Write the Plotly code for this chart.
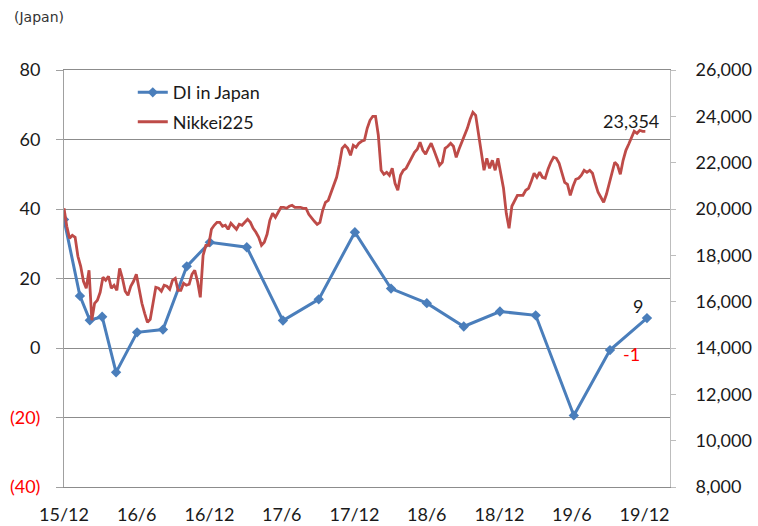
import plotly.graph_objects as go
import pandas as pd

# ---------------- data ----------------
di_dates = ["2015-12-01", "2016-01-10", "2016-02-04", "2016-03-06", "2016-04-10",
            "2016-06-02", "2016-08-06", "2016-10-05", "2016-12-02", "2017-03-05",
            "2017-06-04", "2017-09-02", "2017-12-02", "2018-03-03", "2018-06-01",
            "2018-09-02", "2018-12-02", "2019-03-02", "2019-06-06", "2019-09-05",
            "2019-12-07"]
di_values = [37, 15, 8, 9, -7, 4.5, 5.3, 23.5, 30.4, 29, 7.9, 14, 33.3, 17.1, 12.9,
             6.2, 10.5, 9.4, -19.4, -0.6, 8.6]

nikkei_start = "2015-12-01"
nikkei_values = [
    20030, 19253, 18736, 18865, 18779, 17958, 17527, 16879, 16577, 17354,
    15196, 15930, 16059, 16404, 17052, 16922, 17095, 16577, 16707, 16491,
    17440, 17009, 16448, 16275, 16663, 16879, 17181, 16577, 15930, 15498,
    15109, 15239, 15973, 16620, 16577, 16448, 16707, 16663, 16534, 16922,
    17009, 16491, 16491, 16793, 16707, 16750, 17181, 17354, 16879, 16189,
    17998, 18433, 18433, 19124, 19297, 19426, 19426, 19253, 19297, 19124,
    19383, 19253, 19124, 19340, 19297, 19426, 19555, 19426, 19167, 18995,
    18779, 18433, 18563, 18908, 19513, 19814, 19641, 19858, 20074, 20074,
    20031, 20117, 20160, 20074, 20074, 20074, 20031, 20031, 19771, 19598,
    19469, 19340, 19426, 19944, 20290, 20376, 20721, 21023, 21369, 21930,
    22621, 22750, 22621, 22319, 22750, 22664, 22837, 22923, 22966, 23484,
    23830, 24002, 24002, 23182, 21671, 21498, 21585, 21455, 21758, 21110,
    20808, 21455, 21671, 21758, 21973, 22232, 22448, 22578, 22880, 22534,
    22362, 22621, 22837, 22534, 22232, 21887, 22017, 22621, 22707, 22837,
    22707, 22232, 22578, 22880, 23139, 23484, 23873, 24175, 24045, 23312,
    22534, 21671, 22189, 21758, 22103, 21671, 22189, 21585, 20894, 19814,
    19170, 20117, 20333, 20592, 20592, 20592, 20808, 20894, 21196, 21541,
    21369, 21585, 21369, 21325, 21714, 22017, 22232, 22189, 21973, 21541,
    21153, 21066, 20592, 20980, 21282, 21325, 21455, 21671, 21585, 21671,
    21541, 21110, 20721, 20505, 20290, 20635, 21110, 21671, 22017, 21887,
    21498, 22103, 22534, 22794, 23053, 23355, 23268, 23398, 23355, 23354,
]
nikkei_dates = pd.date_range(nikkei_start, periods=len(nikkei_values), freq="7D")

x_tick_dates = ["2015-12-01", "2016-06-01", "2016-12-01", "2017-06-01", "2017-12-01",
                "2018-06-01", "2018-12-01", "2019-06-01", "2019-12-01"]
x_tick_labels = ["15/12", "16/6", "16/12", "17/6", "17/12", "18/6", "18/12", "19/6", "19/12"]

left_ticks = [-40, -20, 0, 20, 40, 60, 80]
left_tick_labels = ['<span style="color:#FF0000">(40)</span>',
                    '<span style="color:#FF0000">(20)</span>',
                    "0", "20", "40", "60", "80"]
right_ticks = list(range(8000, 26001, 2000))

# ---------------- figure ----------------
FONT = "Lato"
BLUE = "#4A7EBB"
RED = "#BE4B48"
GRID = "#8C8C8C"
AXIS = "#A0A0A0"

fig = go.Figure()
fig.add_trace(go.Scatter(
    x=di_dates, y=di_values, name="DI in Japan", mode="lines+markers",
    line=dict(color=BLUE, width=3), marker=dict(symbol="diamond", size=8, color=BLUE),
    yaxis="y", legendgroup="a"))
fig.add_trace(go.Scatter(
    x=nikkei_dates, y=nikkei_values, name="Nikkei225", mode="lines",
    line=dict(color=RED, width=2.8), yaxis="y2", legendgroup="b"))

x_range = ["2015-12-01", "2020-02-03"]

fig.update_layout(
    width=758, height=526,
    margin=dict(l=64, r=88, t=70, b=39, autoexpand=False),
    paper_bgcolor="white", plot_bgcolor="white",
    font=dict(family=FONT, size=18, color="#1A1A1A"),
    showlegend=True,
    legend=dict(x=0.1135, y=0.99, xanchor="left", yanchor="top",
                bgcolor="rgba(0,0,0,0)", font=dict(size=18), tracegroupgap=3,
                itemwidth=30),
    xaxis=dict(type="date", range=x_range, tickvals=x_tick_dates, ticktext=x_tick_labels,
               showgrid=False, showline=True, mirror=True, linecolor=GRID, linewidth=1,
               ticks="", ticklabelstandoff=11, zeroline=False),
    xaxis2=dict(type="date", range=x_range, tickvals=x_tick_dates, overlaying="x",
                anchor="free", position=0.25, side="bottom",
                showgrid=False, showline=True, linecolor=GRID, linewidth=1,
                ticks="outside", ticklen=5, tickcolor=GRID, showticklabels=False,
                zeroline=False),
    yaxis=dict(range=[-40, 80], tickvals=left_ticks, ticktext=left_tick_labels,
               showgrid=True, gridcolor=GRID, gridwidth=1, zeroline=False,
               showline=True, linecolor=AXIS, linewidth=1,
               ticks="outside", ticklen=7, tickcolor=AXIS, ticklabelstandoff=12),
    yaxis2=dict(range=[8000, 26000], tickvals=right_ticks, tickformat=",",
                overlaying="y", side="right", showgrid=False, zeroline=False,
                showline=True, linecolor="#BDBDBD", linewidth=1,
                ticks="outside", ticklen=5, tickcolor="#BDBDBD", ticklabelstandoff=16),
)

# data labels
fig.add_annotation(x=nikkei_dates[-1], y=nikkei_values[-1], xref="x", yref="y2",
                   text=f"{nikkei_values[-1]:,}", showarrow=False,
                   xanchor="center", yanchor="bottom", xshift=-14, yshift=-3,
                   font=dict(family=FONT, size=18, color="#1A1A1A"))
fig.add_annotation(x=di_dates[-1], y=di_values[-1], xref="x", yref="y",
                   text=f"{round(di_values[-1]):d}", showarrow=False,
                   xanchor="center", yanchor="bottom", xshift=-9, yshift=-1,
                   font=dict(family=FONT, size=18, color="#1A1A1A"))
fig.add_annotation(x=di_dates[-2], y=di_values[-2], xref="x", yref="y",
                   text=f"{round(di_values[-2]):d}", showarrow=False,
                   xanchor="left", yanchor="middle", xshift=11, yshift=-4,
                   font=dict(family=FONT, size=18, color="#FF0000"))

# unit label
fig.add_annotation(x=-0.086, y=1.126, xref="paper", yref="paper", text="(Japan)",
                   showarrow=False, xanchor="left", yanchor="middle",
                   font=dict(family="DejaVu Sans", size=14, color="#333333"))

fig.write_html("out.html", config={"displayModeBar": False},
               post_script="document.body.style.margin='0';")
